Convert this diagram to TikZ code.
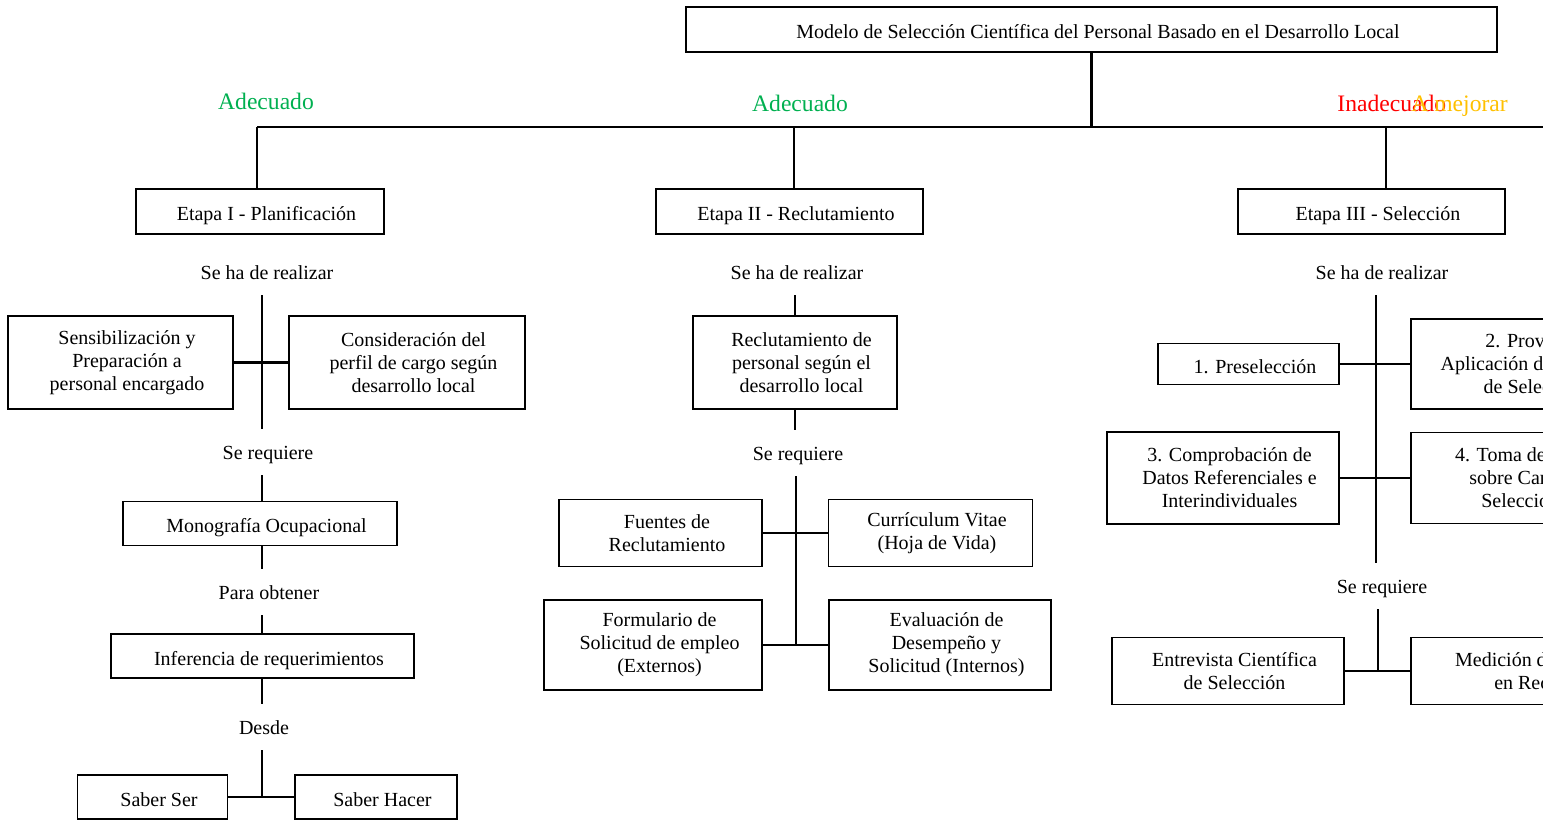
\documentclass[tikz,border=0pt]{standalone}
\usepackage{fontspec}
\setmainfont{Liberation Serif}
\usepackage{xcolor}
\usepackage{tikz}
\definecolor{verde}{HTML}{00B050}
\definecolor{rojo}{HTML}{FF0000}
\definecolor{ambar}{HTML}{FFC000}
\tikzset{
	every node/.style={font=\fontsize{10}{11.5}\selectfont},
	box/.style 2 args={draw, line width=0.9pt, align=center, inner sep=1pt,
		minimum width=#1*0.5pt, minimum height=#2*0.5pt, % size in pixels
		execute at begin node={\hspace*{6.5pt}}}, % text sits a bit right in its box
	single/.style={text height=12pt, text depth=2.5pt}, % one line of text
	wire/.style={line width=1.2pt},
	phrase/.style={minimum height=23pt, inner sep=0pt, text height=10pt, text depth=2.5pt}, % text between two lines
	grade/.style={font=\fontsize{11.8}{14}\selectfont, inner sep=0pt, anchor=base},
}

\begin{document}
\begin{tikzpicture}[x=0.5pt, y=-0.5pt]
	\useasboundingbox (0,0) rectangle (1543,822);
	\clip (0,0) rectangle (1543,822);

	% model and the three stages
	\node[box={811}{45}, single] (model) at (1091.5,29.5) {Modelo de Selección Científica del Personal Basado en el Desarrollo Local};
	\node[box={248}{45}, single] (st1) at (260,211.5) {Etapa I - Planificación};
	\node[box={267}{45}, single] (st2) at (789.5,211.5) {Etapa II - Reclutamiento};
	\node[box={267}{45}, single] (st3) at (1371.5,211.5) {Etapa III - Selección};

	\coordinate (bus1) at (257,127);
	\coordinate (bus2) at (794,127);
	\coordinate (bus3) at (1386,127);
	\coordinate (busR) at (1560,127);
	\draw[wire] (model.south) -- (model.south |- bus1);
	\draw[wire] (bus1) -- (busR);
	\draw[wire] (bus1) -- (bus1 |- st1.north);
	\draw[wire] (bus2) -- (bus2 |- st2.north);
	\draw[wire] (bus3) -- (bus3 |- st3.north);

	\node[grade, text=verde] (ok1) at (266,110) {Adecuado};
	\node[grade, text=verde] (ok2) at (800,112) {Adecuado};
	\node[grade, anchor=base west, text=rojo] (bad3) at (1337,112) {Inadecuado};
	\node[grade, anchor=base west, text=ambar] (fix3) at (1411,112) {A mejorar};

	% Etapa I
	\coordinate (spine1) at (262,0);
	\node[phrase] (do1) at (267,272) {Se ha de realizar};
	\node[box={225}{93}] (sens) at (120.5,362.5) {Sensibilización y\\Preparación a\\personal encargado};
	\node[box={236}{93}] (perf) at (407,362.5) {Consideración del\\perfil de cargo según\\desarrollo local};
	\node[phrase] (req1) at (268,452) {Se requiere};
	\node[box={274}{44}, single] (mono) at (260,523.5) {Monografía Ocupacional};
	\node[phrase] (get1) at (269,592) {Para obtener};
	\node[box={303}{44}, single] (infer) at (262.5,656) {Inferencia de requerimientos};
	\node[phrase] (from1) at (264,727) {Desde};
	\node[box={150}{44}, single] (ser) at (152.5,797) {Saber Ser};
	\node[box={162}{44}, single] (hacer) at (376,797) {Saber Hacer};

	\draw[wire] (do1.south -| spine1) -- (req1.north -| spine1);
	\draw[wire] (sens) -- (perf);
	\draw[wire] (req1.south -| spine1) -- (mono.north -| spine1);
	\draw[wire] (mono.south -| spine1) -- (get1.north -| spine1);
	\draw[wire] (get1.south -| spine1) -- (infer.north -| spine1);
	\draw[wire] (infer.south -| spine1) -- (from1.north -| spine1);
	\draw[wire] (from1.south -| spine1) -- (spine1 |- ser);
	\draw[wire] (ser) -- (hacer);

	% Etapa II
	\coordinate (spine2) at (796,0);
	\node[phrase] (do2) at (797,272) {Se ha de realizar};
	\node[box={204}{93}] (recl) at (795,362.5) {Reclutamiento de\\personal según el\\desarrollo local};
	\node[phrase] (req2) at (798,453) {Se requiere};
	\node[box={203}{67}] (fuen) at (660.5,533) {Fuentes de\\Reclutamiento};
	\node[box={204}{67}] (cv) at (930.5,533) {Currículum Vitae\\(Hoja de Vida)};
	\node[box={218}{90}] (form) at (653,645) {Formulario de\\Solicitud de empleo\\(Externos)};
	\node[box={222}{90}] (eval) at (940,645) {Evaluación de\\Desempeño y\\Solicitud (Internos)};

	\draw[wire] (do2.south -| recl.north) -- (recl.north);
	\draw[wire] (recl.south) -- (recl.south |- req2.north);
	\draw[wire] (req2.south -| spine2) -- (spine2 |- form.east);
	\draw[wire] (fuen) -- (cv);
	\draw[wire] (form) -- (eval);

	% Etapa III
	\coordinate (spine3) at (1376,0);
	\coordinate (spine3b) at (1378,0);
	\node[phrase] (do3) at (1382,272) {Se ha de realizar};
	\node[box={181}{41}, single] (pre) at (1248.5,364) {1. Preselección};
	\node[box={234}{90}] (prue) at (1528,364) {2. Provisión\\Aplicación de Técnicas\\de Selección};
	\node[box={232}{92}] (comp) at (1223,478) {3. Comprobación de\\Datos Referenciales e\\Interindividuales};
	\node[box={242}{91}] (toma) at (1532,478) {4. Toma de Decisión\\sobre Candidatos\\Seleccionados};
	\node[phrase] (req3) at (1382,586) {Se requiere};
	\node[box={232}{67}] (entr) at (1228,671) {Entrevista Científica\\de Selección};
	\node[box={294}{67}] (medi) at (1558,671) {Medición de Competencias\\en Reclutamiento};

	\draw[wire] (do3.south -| spine3) -- (req3.north -| spine3);
	\draw[wire] (pre) -- (prue);
	\draw[wire] (comp) -- (toma);
	\draw[wire] (req3.south -| spine3b) -- (spine3b |- entr);
	\draw[wire] (entr) -- (medi);
\end{tikzpicture}
\end{document}
